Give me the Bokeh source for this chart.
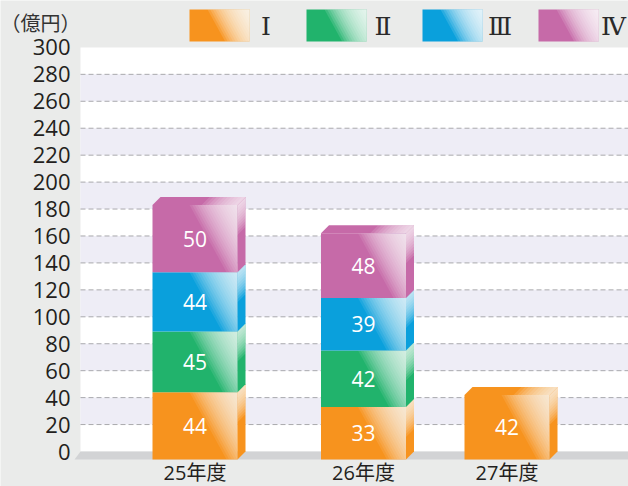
from bokeh.plotting import figure
from bokeh.models import Range1d, FixedTicker, ColumnDataSource
from bokeh.core.properties import value
from bokeh.embed import file_html
from bokeh.resources import INLINE

# ---------------- data ----------------
years = ["25年度", "26年度", "27年度"]
series_names = ["Ⅰ", "Ⅱ", "Ⅲ", "Ⅳ"]
s_I = [44, 33, 42]
s_II = [45, 42, 0]
s_III = [44, 39, 0]
s_IV = [50, 48, 0]
y_ticks = list(range(0, 301, 20))
unit_label = "（億円）"

series_vals = [s_I, s_II, s_III, s_IV]
colors = ["#F7931E", "#21B36C", "#0AA0DC", "#C66AA8"]

# ---------------- layout (x in pixels, y in value units) ----------------
W, H = 628, 486
ZERO_PX = 451                 # pixel row of value 0
S = 1.347                     # px per value unit
Y0 = -(H - ZERO_PX) / S
Y1 = ZERO_PX / S
AXIS_X = 72
WALL_X = 80
centers = [194.5, 363.0, 506.5]
BW = 85
DX, DY = 8, 8
PAGE = "#EAEBEA"
FLOOR = "#D2D3D5"
BAND = "#EEEDF6"
TXT = "#231F20"


def vy(py):
    """pixel row -> value units"""
    return (ZERO_PX - py) / S


p = figure(width=W, height=H, output_backend="svg", toolbar_location=None,
           x_range=Range1d(0, W), y_range=Range1d(Y0, Y1),
           min_border_left=0, min_border_top=0, min_border_bottom=0,
           min_border_right=0)
p.background_fill_color = PAGE
p.border_fill_color = PAGE
p.outline_line_color = None
p.xgrid.visible = False
p.ygrid.visible = False

# wall, bands, grid
p.quad(left=[WALL_X], right=[W + 20], bottom=[0], top=[y_ticks[-1]],
       fill_color="white", line_color=None)
bb_, bt_ = [], []
for i in range(1, len(y_ticks) - 1, 2):
    bb_.append(y_ticks[i]); bt_.append(y_ticks[i + 1])
p.quad(left=WALL_X, right=W + 20, bottom=bb_, top=bt_, fill_color=BAND, line_color=None)
gy = y_ticks[1:-1]
p.segment(x0=[WALL_X] * len(gy), x1=[W + 20] * len(gy), y0=gy, y1=gy,
          line_color="#A9A9AD", line_width=1, line_dash="5 3")

floor_v = -DY / S
p.patch(x=[WALL_X, W + 20, W + 20, WALL_X - 6],
        y=[0, 0, floor_v, floor_v], fill_color=FLOOR, line_color=None)


def clip(poly, a, b, c):
    out = []
    n = len(poly)
    for i in range(n):
        P = poly[i]; Q = poly[(i + 1) % n]
        fp = a * P[0] + b * P[1] - c
        fq = a * Q[0] + b * Q[1] - c
        if fp <= 0:
            out.append(P)
        if (fp < 0 < fq) or (fq < 0 < fp):
            t = fp / (fp - fq)
            out.append((P[0] + t * (Q[0] - P[0]), P[1] + t * (Q[1] - P[1])))
    return out


XS, YS, FC, FA = [], [], [], []


def add(poly_px, color, alpha):
    if len(poly_px) < 3:
        return
    XS.append([q[0] for q in poly_px])
    YS.append([q[1] / S for q in poly_px])
    FC.append(color); FA.append(alpha)


def layers(poly, a, b, cfun, P0, N, alpha):
    for k in range(N):
        P = P0 * (1 - k / N)
        add(clip(poly, a, b, cfun(P)), "#FFFFFF", alpha)


tx, ty, tt = [], [], []
for i, c in enumerate(centers):
    x0, x1 = c - BW / 2, c + BW / 2
    cum = 0
    top_info = None
    for k, vals in enumerate(series_vals):
        v = vals[i]
        if not v:
            continue
        lo, hi = cum, cum + v
        cum = hi
        flo = lo if lo > 0 else floor_v
        yb, yt = flo * S, hi * S
        col = colors[k]
        front = [(x0, yb), (x1, yb), (x1, yt), (x0, yt)]
        add(front, col, 1.0)
        layers(front, -1.0, -0.55, lambda P, x1=x1, yt=yt: P - x1 - 0.55 * yt, 48, 18, 0.09)
        side = [(x1, yb), (x1 + DX, yb + DY), (x1 + DX, yt + DY), (x1, yt)]
        add(side, col, 1.0)
        r = DY / DX
        layers(side, r, -1.0, lambda P, x1=x1, yt=yt, r=r: P - yt + x1 * r, 30, 10, 0.12)
        top_info = (x0, x1, yt, col)
        tx.append(c); ty.append((flo + hi) / 2); tt.append(str(v))
    if top_info:
        x0, x1, yt, col = top_info
        topf = [(x0, yt), (x1, yt), (x1 + DX, yt + DY), (x0 + DX, yt + DY)]
        add(topf, col, 1.0)
        q = DX / DY
        layers(topf, -1.0, q, lambda P, x1=x1, yt=yt, q=q: P - x1 + yt * q, 36, 10, 0.12)

# legend swatches
leg_left = [189, 306, 422, 538]
leg_w = 60
leg_b, leg_t = vy(41), vy(9)
for k in range(4):
    lx0, lx1 = leg_left[k], leg_left[k] + leg_w
    yb, yt = leg_b * S, leg_t * S
    box = [(lx0, yb), (lx1, yb), (lx1, yt), (lx0, yt)]
    add(box, colors[k], 1.0)
    layers(box, -1.0, -0.55, lambda P, x1=lx1, yt=yt: P - x1 - 0.55 * yt, 42, 16, 0.13)

src = ColumnDataSource(dict(xs=XS, ys=YS, fc=FC, fa=FA))
p.patches("xs", "ys", source=src, fill_color="fc", fill_alpha="fa", line_color=None)

p.text(x=tx, y=ty, text=tt, text_color="white", text_align="center",
       text_baseline="middle", text_font=value("Open Sans"), text_font_size="21px")

leg_tx = [265.5, 382.5, 499.5, 613]
p.text(x=leg_tx, y=[vy(26)] * 4, text=series_names, text_color="#2A2A2A",
       text_align="center", text_baseline="middle",
       text_font=value("DejaVu Serif"), text_font_size="25px")

p.text(x=[40], y=[vy(22)], text=[unit_label], text_color="#333333",
       text_align="center", text_baseline="middle",
       text_font=value("Noto Sans CJK JP"), text_font_size="20px")

# axes drawn at fixed positions inside the canvas
p.yaxis.fixed_location = AXIS_X
p.yaxis.ticker = FixedTicker(ticks=y_ticks)
p.yaxis.axis_line_color = None
p.yaxis.major_tick_line_color = None
p.yaxis.minor_tick_line_color = None
p.yaxis.major_tick_out = 0
p.yaxis.major_tick_in = 0
p.yaxis.major_label_standoff = 2
p.yaxis.major_label_text_font = "Open Sans"
p.yaxis.major_label_text_font_size = "22px"
p.yaxis.major_label_text_color = TXT

p.xaxis.fixed_location = vy(458)
p.xaxis.ticker = FixedTicker(ticks=centers)
p.xaxis.major_label_overrides = {c: y for c, y in zip(centers, years)}
p.xaxis.axis_line_color = None
p.xaxis.major_tick_line_color = None
p.xaxis.minor_tick_line_color = None
p.xaxis.major_tick_out = 0
p.xaxis.major_tick_in = 0
p.xaxis.major_label_standoff = 0
p.xaxis.major_label_text_font = "Open Sans, Noto Sans CJK JP"
p.xaxis.major_label_text_font_size = "20px"
p.xaxis.major_label_text_color = TXT

open("out.html", "w").write(file_html(p, INLINE))
